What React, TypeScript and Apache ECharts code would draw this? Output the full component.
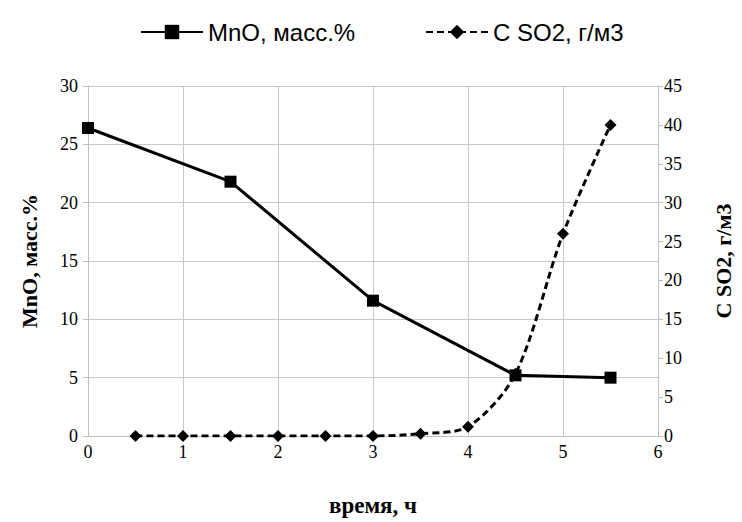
import React, { useEffect, useRef } from "react";
import * as echarts from "echarts";

const mnoTime = [0, 1.5, 3, 4.5, 5.5];
const mnoValues = [26.4, 21.8, 11.6, 5.2, 5.0];
const so2Time = [0.5, 1, 1.5, 2, 2.5, 3, 3.5, 4, 4.5, 5, 5.5];
const so2Values = [0, 0, 0, 0, 0, 0, 0.3, 1.2, 8, 26, 40];

const mnoName = "MnO, масс.%";
const so2Name = "C SO2, г/м3";
const xName = "время, ч";

export default function App() {
  const ref = useRef<HTMLDivElement>(null);
  useEffect(() => {
    if (!ref.current) return;
    const chart = echarts.init(ref.current, undefined, { renderer: "svg" });
    const serif = "'Liberation Serif', 'Times New Roman', serif";
    const sans = "'Liberation Sans', Arial, sans-serif";
    const legendBase = {
      top: 15,
      itemWidth: 62,
      itemHeight: 18,
      textStyle: { fontFamily: sans, fontSize: 24, color: "#000" },
    };
    chart.setOption({
      animation: false,
      backgroundColor: "#ffffff",
      legend: [
        { ...legendBase, left: 135, data: [mnoName] },
        { ...legendBase, left: 420, data: [so2Name] },
      ],
      grid: { left: 88, right: 76, top: 86, bottom: 82 },
      xAxis: {
        type: "value",
        min: 0,
        max: 6,
        interval: 1,
        name: xName,
        nameLocation: "middle",
        nameGap: 58,
        nameTextStyle: { fontFamily: serif, fontSize: 23, fontWeight: "bold", color: "#000" },
        axisLine: { show: true, lineStyle: { color: "#bfbfbf" } },
        axisTick: { show: false },
        axisLabel: { fontFamily: serif, fontSize: 18, color: "#000", margin: 7 },
        splitLine: { show: true, lineStyle: { color: "#c8c8c8", width: 1 } },
      },
      yAxis: [
        {
          type: "value",
          min: 0,
          max: 30,
          interval: 5,
          name: mnoName,
          nameLocation: "middle",
          nameGap: 48,
          nameTextStyle: { fontFamily: serif, fontSize: 22, fontWeight: "bold", color: "#000" },
          axisLine: { show: true, lineStyle: { color: "#bfbfbf" } },
          axisTick: { show: true, length: 5, lineStyle: { color: "#bfbfbf" } },
          axisLabel: { fontFamily: serif, fontSize: 18, color: "#000", margin: 10 },
          splitLine: { show: true, lineStyle: { color: "#c8c8c8", width: 1 } },
        },
        {
          type: "value",
          min: 0,
          max: 45,
          interval: 5,
          position: "right",
          name: so2Name,
          nameLocation: "middle",
          nameGap: 54,
          nameRotate: 90,
          nameTextStyle: { fontFamily: serif, fontSize: 22, fontWeight: "bold", color: "#000" },
          axisLine: { show: true, lineStyle: { color: "#bfbfbf" } },
          axisTick: { show: true, length: 5, lineStyle: { color: "#bfbfbf" } },
          axisLabel: { fontFamily: serif, fontSize: 18, color: "#000", margin: 6 },
          splitLine: { show: false },
        },
      ],
      series: [
        {
          name: mnoName,
          type: "line",
          yAxisIndex: 0,
          data: mnoTime.map((t, i) => [t, mnoValues[i]]),
          symbol: "rect",
          symbolSize: 12,
          lineStyle: { color: "#000", width: 3 },
          itemStyle: { color: "#000" },
          z: 3,
        },
        {
          name: so2Name,
          type: "line",
          yAxisIndex: 1,
          smooth: 0.3,
          data: so2Time.map((t, i) => [t, so2Values[i]]),
          symbol: "diamond",
          symbolSize: 12,
          lineStyle: { color: "#000", width: 3, type: [7, 4] },
          itemStyle: { color: "#000" },
          z: 2,
        },
      ],
    });
    return () => chart.dispose();
  }, []);
  return (
    <div
      ref={ref}
      style={{ position: "fixed", left: 0, top: 0, width: 742, height: 522 }}
    />
  );
}
